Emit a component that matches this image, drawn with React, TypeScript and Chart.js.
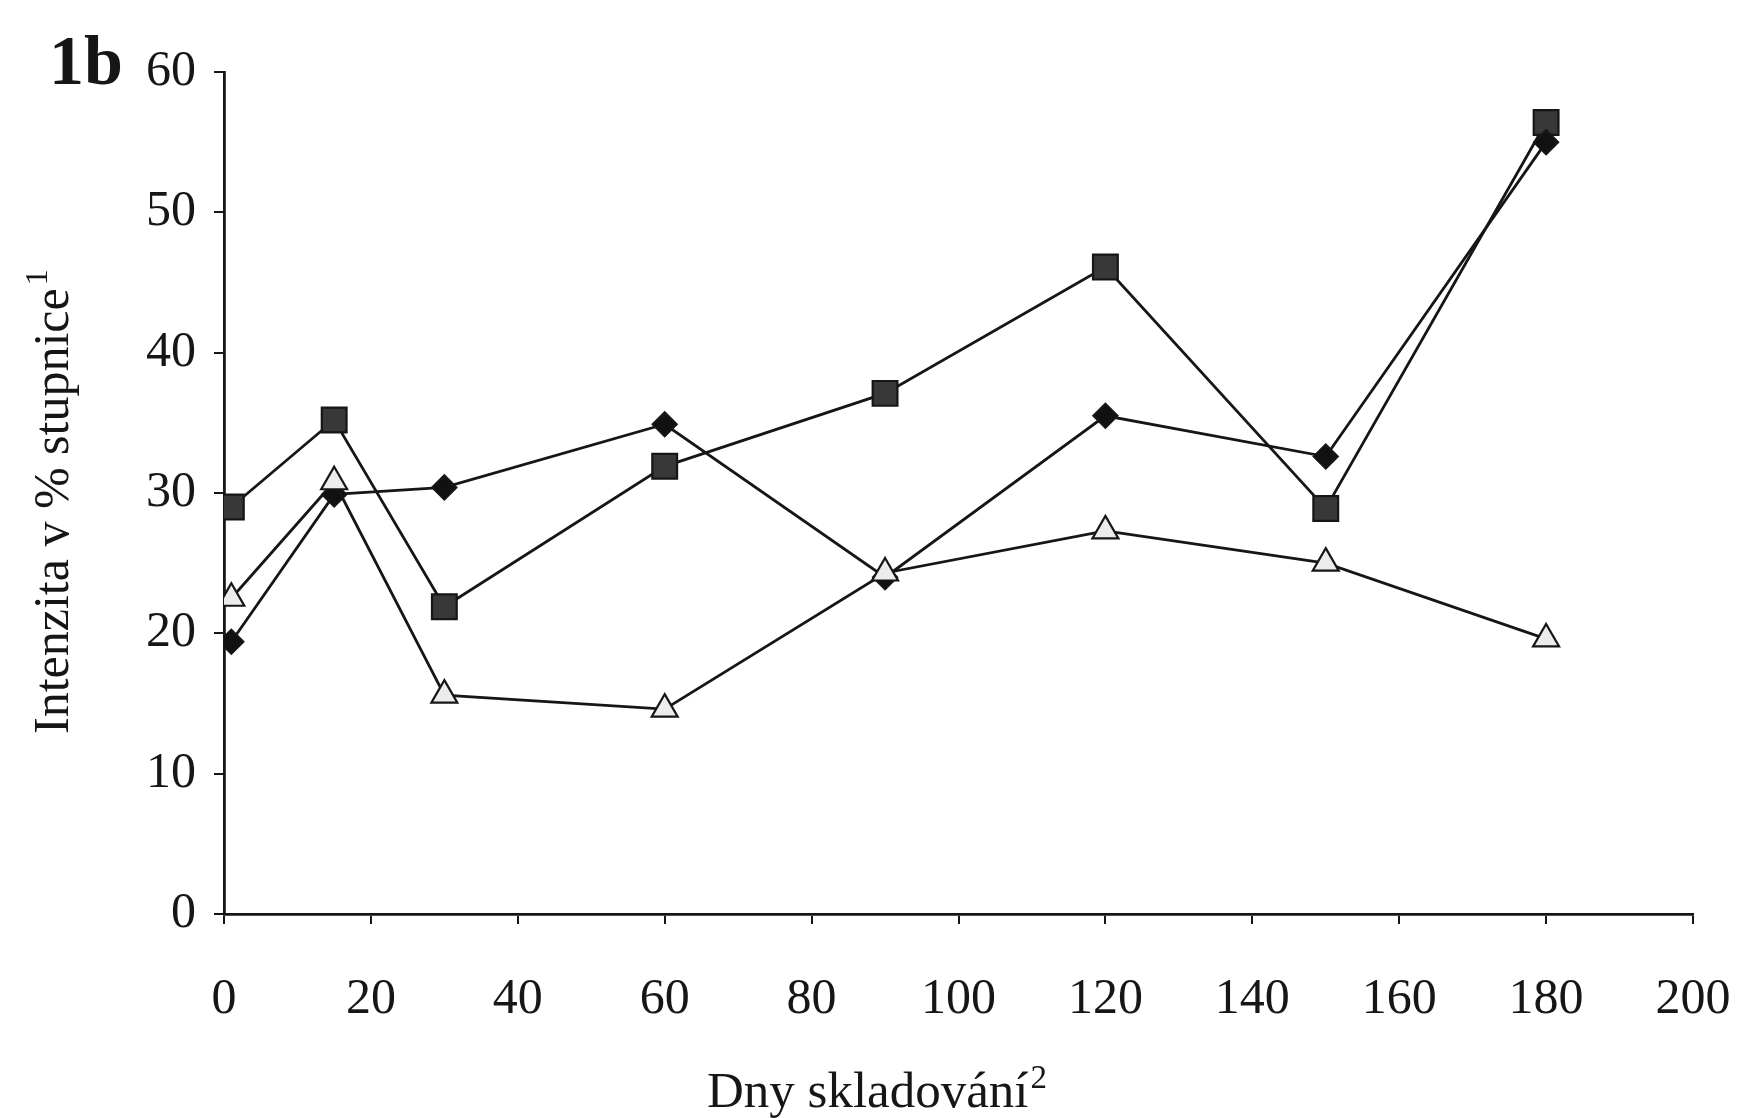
import React, { useEffect, useRef } from "react";
import { Chart, registerables } from "chart.js";

Chart.register(...registerables);

const days = [1, 15, 30, 60, 90, 120, 150, 180];
const squareSeries = [29.0, 35.2, 21.9, 31.9, 37.1, 46.1, 28.9, 56.4];
const diamondSeries = [19.4, 29.9, 30.4, 34.9, 24.0, 35.5, 32.6, 55.0];
const triangleSeries = [22.5, 30.8, 15.6, 14.6, 24.3, 27.3, 25.0, 19.6];
const xTicks = [0, 20, 40, 60, 80, 100, 120, 140, 160, 180, 200];
const yTicks = [0, 10, 20, 30, 40, 50, 60];

const panelLabel = "1b";
const yTitle = "Intenzita v % stupnice";
const yTitleSup = "1";
const xTitle = "Dny skladování";
const xTitleSup = "2";

const FONT = "'Liberation Serif', 'DejaVu Serif', serif";
const INK = "#161616";

const toPoints = (vals: number[]) => days.map((d, i) => ({ x: d, y: vals[i] }));

const textPlugin = {
  id: "texts",
  afterDraw(chart: any) {
    const ctx = chart.ctx as CanvasRenderingContext2D;
    ctx.save();
    ctx.fillStyle = INK;
    ctx.textBaseline = "alphabetic";
    ctx.textAlign = "left";
    // panel label
    ctx.font = `bold 70px ${FONT}`;
    ctx.fillText(panelLabel, 49, 84);
    // x title
    ctx.font = `51px ${FONT}`;
    ctx.fillText(xTitle, 707, 1107);
    const w = ctx.measureText(xTitle).width;
    ctx.font = `33px ${FONT}`;
    ctx.fillText(xTitleSup, 707 + w + 2, 1088);
    // y title rotated
    ctx.translate(68, 734);
    ctx.rotate(-Math.PI / 2);
    ctx.font = `50px ${FONT}`;
    ctx.fillText(yTitle, 0, 0);
    const wy = ctx.measureText(yTitle).width;
    ctx.font = `32px ${FONT}`;
    ctx.fillText(yTitleSup, wy + 3, -21);
    ctx.restore();
  },
};

export default function App() {
  const ref = useRef<HTMLCanvasElement | null>(null);
  useEffect(() => {
    if (!ref.current) return;
    const common = {
      borderColor: INK,
      borderWidth: 2.8,
      pointBorderColor: INK,
      pointBorderWidth: 2.2,
      showLine: true,
      tension: 0,
      fill: false,
    };
    const chart = new Chart(ref.current, {
      type: "scatter",
      data: {
        datasets: [
          {
            ...common,
            label: "triangle",
            data: toPoints(triangleSeries),
            pointStyle: "triangle",
            pointRadius: 15,
            pointBackgroundColor: "#ececec",
          },
          {
            ...common,
            label: "diamond",
            data: toPoints(diamondSeries),
            pointStyle: "rectRot",
            pointRadius: 12,
            pointBackgroundColor: "#111",
          },
          {
            ...common,
            label: "square",
            data: toPoints(squareSeries),
            pointStyle: "rect",
            pointRadius: 17.5,
            pointBackgroundColor: "#383838",
          },
        ],
      } as any,
      options: {
        animation: false,
        responsive: false,
        maintainAspectRatio: false,
        layout: { padding: { left: 0, right: 45, top: 72, bottom: 0 } },
        plugins: { legend: { display: false }, tooltip: { enabled: false }, title: { display: false } },
        scales: {
          x: {
            type: "linear",
            min: 0,
            max: 200,
            afterBuildTicks: (s: any) => {
              s.ticks = xTicks.map((v) => ({ value: v }));
            },
            afterFit: (s: any) => {
              s.height = 204;
              s.paddingLeft = 0;
              s.paddingRight = 0;
            },
            grid: {
              display: true,
              drawOnChartArea: false,
              drawTicks: true,
              tickLength: 10,
              color: INK,
              lineWidth: 2,
            },
            border: { display: true, color: INK, width: 2.8 },
            ticks: {
              color: INK,
              padding: 46,
              maxRotation: 0,
              autoSkip: false,
              font: { family: FONT, size: 50 },
            },
          },
          y: {
            type: "linear",
            min: 0,
            max: 60,
            afterBuildTicks: (s: any) => {
              s.ticks = yTicks.map((v) => ({ value: v }));
            },
            afterFit: (s: any) => {
              s.width = 224;
              s.paddingTop = 0;
              s.paddingBottom = 0;
            },
            grid: {
              display: true,
              drawOnChartArea: false,
              drawTicks: true,
              tickLength: 10,
              color: INK,
              lineWidth: 2,
            },
            border: { display: true, color: INK, width: 2.8 },
            ticks: {
              color: INK,
              padding: 18,
              autoSkip: false,
              font: { family: FONT, size: 50 },
            },
          },
        },
      } as any,
      plugins: [textPlugin],
    });
    return () => chart.destroy();
  }, []);
  return (
    <div style={{ position: "absolute", left: 0, top: 0, width: 1738, height: 1118, background: "#fff" }}>
      <canvas ref={ref} width={1738} height={1118} style={{ width: 1738, height: 1118, display: "block" }} />
    </div>
  );
}
